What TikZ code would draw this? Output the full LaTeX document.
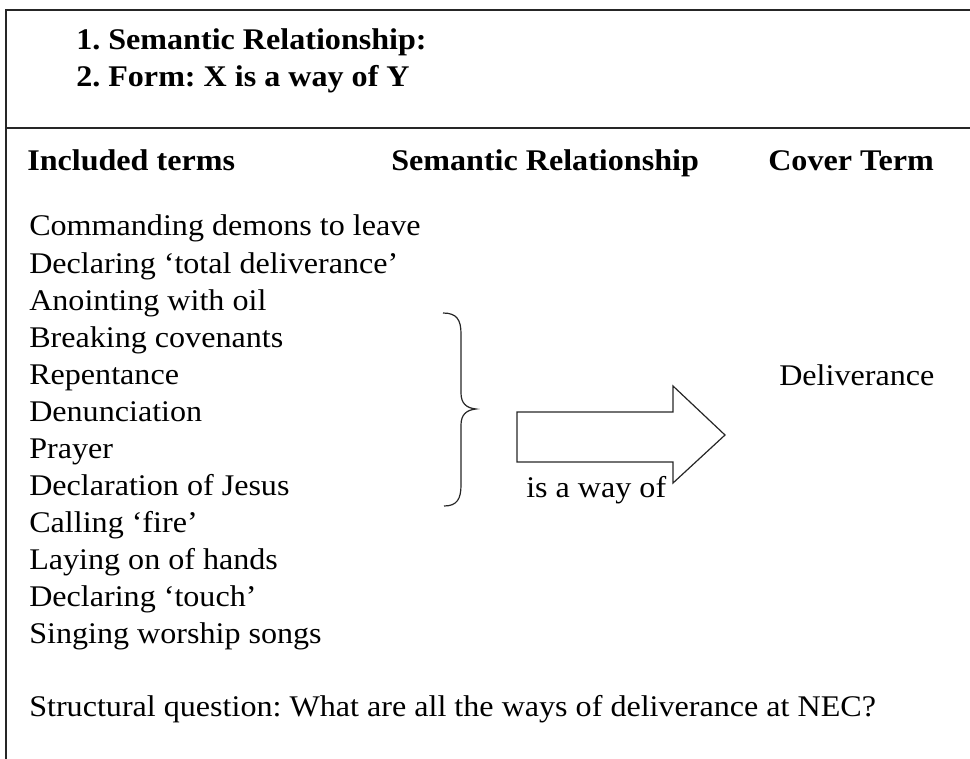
\documentclass[tikz,border=0pt]{standalone}
\usepackage{fontspec}
\setmainfont{Liberation Serif}[FakeStretch=1.07]
\frenchspacing
\begin{document}
\begin{tikzpicture}[x=0.75pt,y=-0.75pt,
  txt/.style={anchor=base west,inner sep=0pt,font=\fontsize{22.5}{27}\selectfont},
  hd/.style={txt,font=\fontsize{22.5}{27}\selectfont\bfseries},
  frame/.style={line width=1.4pt,black!85},
  thin/.style={line width=0.9pt,black!85}]
\useasboundingbox (0,0) rectangle (970,759);
% frame
\draw[frame] (970,10) -- (6,10) -- (6,759);
\draw[frame] (6,128) -- (970,128);
% top headings
\node[hd] (h1) at (76,50) {1. Semantic Relationship:};
\node[hd] (h2) at (76,87) {2. Form: X is a way of Y};
\node[hd] (c1) at (27,171) {Included terms};
\node[hd] (c2) at (391,171) {Semantic Relationship};
\node[hd] (c3) at (768,171) {Cover Term};
% list
\foreach \t [count=\i] in {Commanding demons to leave,Declaring ‘total deliverance’,Anointing with oil,Breaking covenants,Repentance,Denunciation,Prayer,Declaration of Jesus,Calling ‘fire’,Laying on of hands,Declaring ‘touch’,Singing worship songs}
  \node[txt] (t\i) at (29,{236+37*(\i-1)}) {\t};
% brace
\draw[thin] (443,313) .. controls (457,313) and (461,320) .. (461,334) -- (461,393)
  .. controls (461,403) and (466,408) .. (476,409)
  .. controls (466,410) and (461,415) .. (461,425) -- (461,485)
  .. controls (461,499) and (457,506) .. (444,506);
% block arrow
\draw[thin] (517,412) -- (673,412) -- (673,386) -- (725,435) -- (673,483) -- (673,462) -- (517,462) -- cycle;
\node[txt] (rel) at (526,497) {is a way of};
\node[txt] (cov) at (779,385) {Deliverance};
\node[txt] (q) at (29,716) {Structural question: What are all the ways of deliverance at NEC?};
\end{tikzpicture}
\end{document}
